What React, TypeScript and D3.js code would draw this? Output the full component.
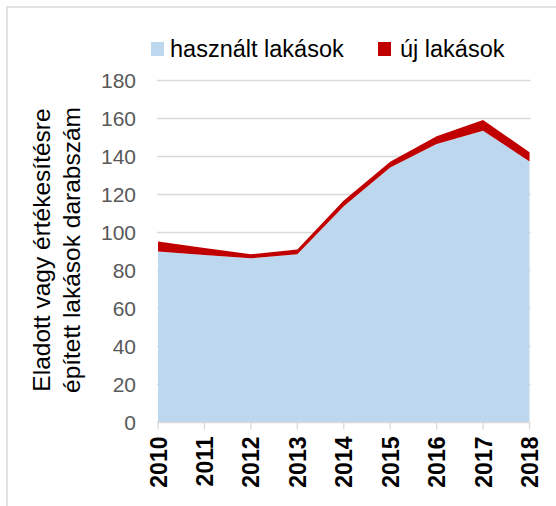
import React from "react";
import * as d3 from "d3";

const years = ["2010", "2011", "2012", "2013", "2014", "2015", "2016", "2017", "2018"];
const usedFlats = [90.0, 88.2, 86.4, 88.6, 113.8, 134.2, 146.6, 153.6, 137.4];
const newFlats = [5.2, 3.6, 2.1, 2.4, 3.0, 3.1, 4.1, 5.6, 4.9];
const yTicks = [0, 20, 40, 60, 80, 100, 120, 140, 160, 180];
const seriesNames = ["használt lakások", "új lakások"];
const seriesColors = ["#BDD7EE", "#C00000"];
const yLabelLines = ["Eladott vagy értékesítésre", "épített lakások darabszám"];

const W = 556;
const H = 506;
const FONT = "'Liberation Sans', Arial, sans-serif";

export default function App() {
  const x = d3.scalePoint<string>().domain(years).range([158, 529.5]);
  const y = d3.scaleLinear().domain([0, 180]).range([422.5, 80.5]);

  const rows = years.map((yr, i) => ({ year: yr, used: usedFlats[i], nw: newFlats[i] }));
  const stacked = d3.stack<any>().keys(["used", "nw"])(rows);
  const area = d3
    .area<any>()
    .x((d) => x(d.data.year) as number)
    .y0((d) => y(d[0]))
    .y1((d) => y(d[1]));

  const x0 = x(years[0]) as number;
  const x1 = x(years[years.length - 1]) as number;

  return (
    <svg
      width={W}
      height={H}
      style={{ position: "absolute", left: 0, top: 0, background: "#fff" }}
      fontFamily={FONT}
    >
      <rect x={7} y={7} width={W + 10} height={H + 10} fill="#fff" stroke="#d9d9d9" strokeWidth={1.5} />

      {/* gridlines */}
      {yTicks.filter((t) => t > 0).map((t) => (
        <line key={t} x1={x0 - 1} x2={x1 + 1} y1={y(t)} y2={y(t)} stroke="#d9d9d9" strokeWidth={1.3} />
      ))}

      {/* areas */}
      {stacked.map((s, i) => (
        <path key={i} d={area(s as any) || ""} fill={seriesColors[i]} />
      ))}

      {/* x axis */}
      <line x1={x0 - 1} x2={x1 + 1} y1={y(0)} y2={y(0)} stroke="#d9d9d9" strokeWidth={1.3} />
      {years.map((yr) => (
        <line key={yr} x1={x(yr)} x2={x(yr)} y1={y(0)} y2={y(0) + 7} stroke="#d9d9d9" strokeWidth={1.3} />
      ))}
      {years.map((yr) => (
        <text
          key={yr}
          transform={`translate(${(x(yr) as number) + 8.5},${y(0) + 14}) rotate(-90)`}
          textAnchor="end"
          fontSize={23}
          fontWeight="bold"
          fill="#000"
        >
          {yr}
        </text>
      ))}

      {/* y ticks */}
      {yTicks.map((t) => (
        <text key={t} x={136} y={y(t) + 7.5} textAnchor="end" fontSize={21} fill="#595959">
          {t}
        </text>
      ))}

      {/* y label */}
      {yLabelLines.map((l, i) => (
        <text
          key={i}
          transform={`translate(${50 + i * 30},250) rotate(-90)`}
          textAnchor="middle"
          fontSize={24.5}
          fill="#000"
        >
          {l}
        </text>
      ))}

      {/* legend */}
      <rect x={151} y={42} width={13} height={14} fill={seriesColors[0]} />
      <text x={170} y={57} fontSize={23.5} fill="#000">{seriesNames[0]}</text>
      <rect x={378} y={42} width={13} height={14} fill={seriesColors[1]} />
      <text x={400} y={57} fontSize={23.5} fill="#000">{seriesNames[1]}</text>
    </svg>
  );
}
